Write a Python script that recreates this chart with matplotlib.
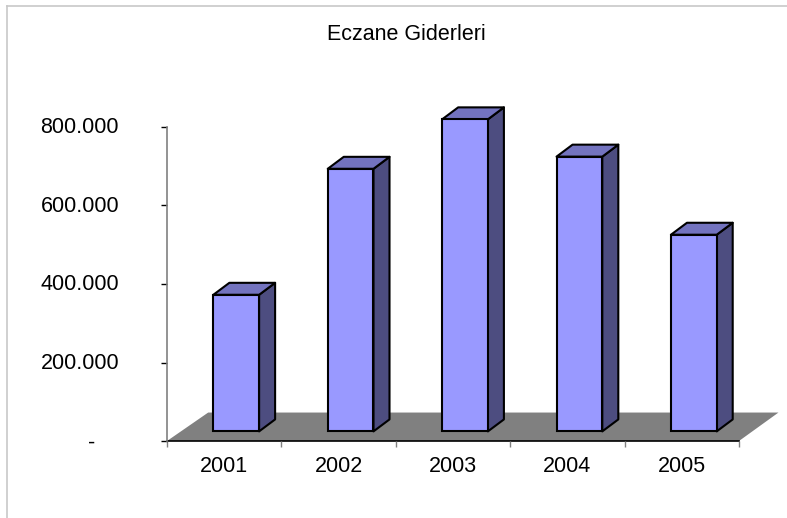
import matplotlib
matplotlib.use("Agg")
import matplotlib.pyplot as plt
from matplotlib.patches import Polygon
from matplotlib.lines import Line2D
from matplotlib.transforms import ScaledTranslation
import numpy as np

plt.rcParams['font.family'] = ['Liberation Sans', 'DejaVu Sans']

years = ['2001', '2002', '2003', '2004', '2005']
values = [348000, 669000, 795000, 700000, 501000]
y_ticks = [0, 200000, 400000, 600000, 800000]
y_labels = ['-    ', '200.000', '400.000', '600.000', '800.000']
title = 'Eczane Giderleri'

W, H = 787, 518
FS = 15.5
fig = plt.figure(figsize=(W / 100, H / 100), dpi=100)
ax = fig.add_axes([167 / W, 1 - 441 / H, 572 / W, 314 / H])
ax.set_xlim(-0.5, 4.5)
ax.set_ylim(0, 800000)
ax.patch.set_visible(False)

# 3d look, offsets are in data units
FLOOR_DX, FLOOR_DY = 0.345, 72500
BAR_DX, BAR_DY = 0.14, 30500
BAR_W, BAR_SHIFT, BAR_LIFT = 0.40, 0.105, 24500
LW = 1.5

ax.add_patch(Polygon([(-0.5, 0), (4.5, 0), (4.5 + FLOOR_DX, FLOOR_DY), (-0.5 + FLOOR_DX + 0.015, FLOOR_DY)],
                     closed=True, fc='#808080', ec='none', clip_on=False, zorder=1))

x = np.arange(len(years)) + BAR_SHIFT
ax.bar(x, values, BAR_W, bottom=BAR_LIFT, color='#9999FF', edgecolor='black', linewidth=LW, zorder=3, clip_on=False)
for xi, v in zip(x, values):
    l, r = xi - BAR_W / 2, xi + BAR_W / 2
    b, t = BAR_LIFT, BAR_LIFT + v
    ax.add_patch(Polygon([(r, b), (r + BAR_DX, b + BAR_DY), (r + BAR_DX, t + BAR_DY), (r, t)],
                         closed=True, fc='#4D4D80', ec='black', lw=LW, joinstyle='round', clip_on=False, zorder=2))
    ax.add_patch(Polygon([(l, t), (r, t), (r + BAR_DX, t + BAR_DY), (l + BAR_DX, t + BAR_DY)],
                         closed=True, fc='#7373BF', ec='black', lw=LW, joinstyle='round', clip_on=False, zorder=2))

for s in ['top', 'right']:
    ax.spines[s].set_visible(False)
ax.spines['left'].set_color('#808080')
ax.spines['left'].set_linewidth(1.2)
ax.spines['bottom'].set_color('black')
ax.spines['bottom'].set_linewidth(1.2)
ax.spines['bottom'].set_zorder(1.5)

ax.set_yticks(y_ticks)
ax.set_yticklabels(y_labels, fontsize=FS, color='black')
ax.tick_params(axis='y', length=4.5, width=1, color='black', pad=30)
ax.set_xticks(np.arange(6) - 0.5)
ax.set_xticklabels([])
ax.set_xticks(np.arange(5), minor=True)
ax.set_xticklabels(years, minor=True, fontsize=FS)
ax.tick_params(axis='x', which='major', length=4.5, width=1, color='#808080')
ax.tick_params(axis='x', which='minor', length=0, pad=11)

# number labels sit slightly above their ticks
up = ScaledTranslation(0, 1.5 / 100, fig.dpi_scale_trans)
for lab in ax.get_yticklabels()[1:]:
    lab.set_transform(lab.get_transform() + up)

fig.text(406 / W, 1 - 35 / H, title, fontsize=FS, ha='center', va='center')

# chart area border, only top and left show
fig.add_artist(Line2D([6.5 / W, 6.5 / W], [0, 1 - 5.5 / H], color='#C8C8C8', lw=1.2))
fig.add_artist(Line2D([6.5 / W, 1], [1 - 5.5 / H, 1 - 5.5 / H], color='#C8C8C8', lw=1.2))

fig.savefig('out.png', dpi=100)
